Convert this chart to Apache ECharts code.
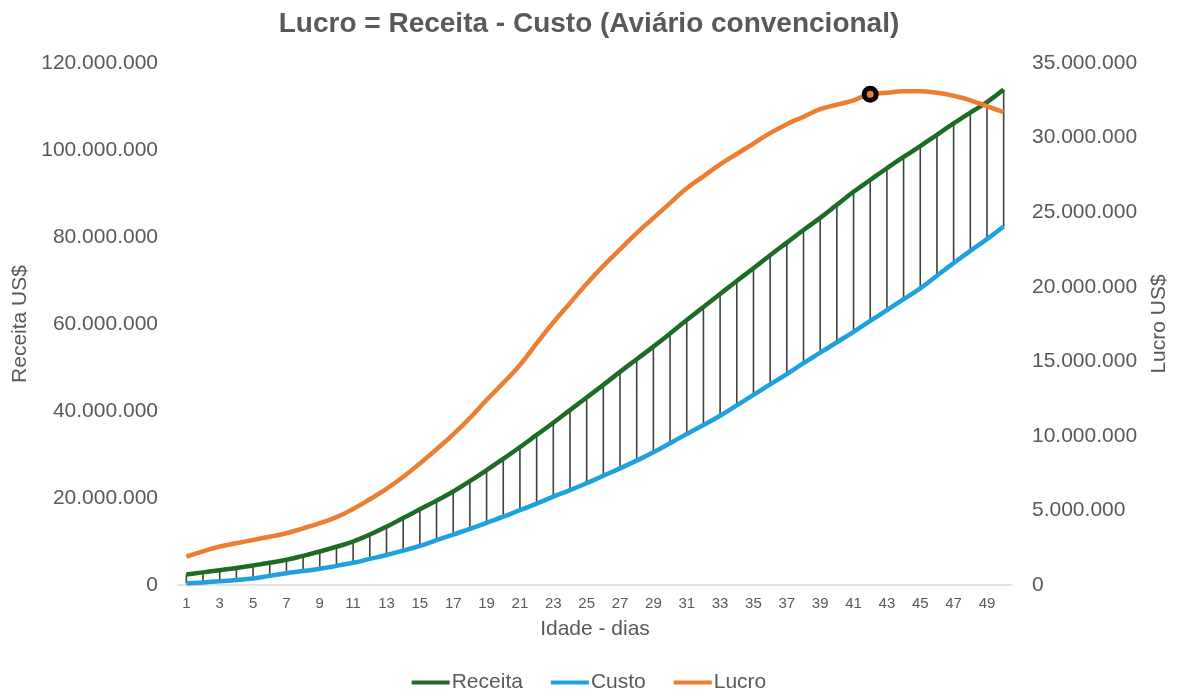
<!DOCTYPE html>
<html>
<head>
<meta charset="utf-8">
<script src="https://cdn.jsdelivr.net/npm/echarts@6/dist/echarts.min.js"></script>
<style>
  html, body { margin: 0; padding: 0; background: #fff; }
  #chart { width: 1178px; height: 693px; }
</style>
</head>
<body>
<div id="chart"></div>
<script>
// dias 1..50
var dias = [];
for (var d = 1; d <= 50; d++) dias.push(String(d));

// valores em milhões de US$
var receita = [
    2.4, 2.9, 3.4, 3.9, 4.5, 5.1, 5.8, 6.7, 7.7, 8.8,
    10.0, 11.6, 13.4, 15.4, 17.4, 19.4, 21.5, 23.9, 26.4, 29.0,
    31.7, 34.5, 37.3, 40.2, 43.1, 46.0, 49.0, 51.9, 54.8, 57.8,
    60.9, 63.9, 66.9, 69.9, 72.8, 75.8, 78.7, 81.6, 84.4, 87.4,
    90.4, 93.1, 95.8, 98.4, 100.9, 103.5, 106.1, 108.6, 111.0, 113.9
];
var custo = [
    0.4, 0.6, 0.85, 1.15, 1.5, 2.1, 2.7, 3.2, 3.75, 4.4,
    5.1, 6.0, 6.9, 7.9, 9.0, 10.3, 11.6, 12.9, 14.3, 15.7,
    17.2, 18.7, 20.3, 21.8, 23.4, 25.1, 26.8, 28.6, 30.5, 32.6,
    34.7, 36.8, 38.9, 41.3, 43.7, 46.1, 48.5, 51.0, 53.4, 55.8,
    58.2, 60.7, 63.2, 65.7, 68.2, 71.1, 74.0, 76.8, 79.5, 82.4
];
var lucro = [
    1.9, 2.25, 2.58, 2.8, 3.02, 3.24, 3.47, 3.8, 4.15, 4.55,
    5.1, 5.75, 6.45, 7.25, 8.15, 9.1, 10.1, 11.2, 12.4, 13.55,
    14.75, 16.2, 17.6, 18.9, 20.2, 21.4, 22.5, 23.6, 24.6, 25.6,
    26.6, 27.4, 28.2, 28.9, 29.6, 30.3, 30.9, 31.4, 31.9, 32.2,
    32.5, 32.9, 33.0, 33.1, 33.1, 33.0, 32.8, 32.5, 32.1, 31.7
];
var diaMax = '42';

var corTexto = '#595959';

function fmt(v) {
    return String(Math.round(v * 1e6)).replace(/\B(?=(\d{3})+(?!\d))/g, '.');
}

var hiLo = dias.map(function (d, i) { return [i, custo[i], receita[i]]; });

var chart = echarts.init(document.getElementById('chart'));

var option = {
    animation: false,
    textStyle: { fontFamily: 'Liberation Sans, Arial, sans-serif' },
    title: {
        text: 'Lucro = Receita - Custo (Aviário convencional)',
        left: 'center',
        top: 5,
        textStyle: { fontSize: 28, fontWeight: 'bold', color: corTexto }
    },
    legend: {
        top: 667,
        icon: 'rect',
        itemWidth: 38,
        itemHeight: 4,
        itemGap: 28,
        textStyle: { fontSize: 21, color: corTexto, padding: [0, 0, 0, -3] },
        data: ['Receita', 'Custo', 'Lucro']
    },
    grid: { left: 178, right: 166, top: 63, bottom: 108 },
    xAxis: {
        type: 'category',
        data: dias,
        boundaryGap: true,
        name: 'Idade - dias',
        nameLocation: 'middle',
        nameGap: 34,
        nameTextStyle: { fontSize: 21, color: corTexto },
        axisLine: { lineStyle: { color: '#d9d9d9', width: 1.5 } },
        axisTick: { show: false },
        axisLabel: { interval: 1, fontSize: 15, color: corTexto, margin: 11 }
    },
    yAxis: [
        {
            type: 'value',
            min: 0, max: 120, interval: 20,
            name: 'Receita US$',
            nameLocation: 'middle',
            nameGap: 146,
            nameTextStyle: { fontSize: 21, color: corTexto },
            splitLine: { show: false },
            axisLine: { show: false },
            axisTick: { show: false },
            axisLabel: { fontSize: 21, color: corTexto, margin: 20, formatter: fmt }
        },
        {
            type: 'value',
            min: 0, max: 35, interval: 5,
            name: 'Lucro US$',
            nameLocation: 'middle',
            nameGap: 137,
            nameTextStyle: { fontSize: 21, color: corTexto },
            splitLine: { show: false },
            axisLine: { show: false },
            axisTick: { show: false },
            axisLabel: { fontSize: 21, color: corTexto, margin: 20, formatter: fmt }
        }
    ],
    series: [
        {
            name: 'hilo',
            type: 'custom',
            yAxisIndex: 0,
            z: 1,
            silent: true,
            encode: { x: 0, y: [1, 2] },
            data: hiLo,
            renderItem: function (params, api) {
                var lo = api.coord([api.value(0), api.value(1)]);
                var hi = api.coord([api.value(0), api.value(2)]);
                return {
                    type: 'line',
                    shape: { x1: lo[0], y1: lo[1], x2: hi[0], y2: hi[1] },
                    style: { stroke: '#404040', lineWidth: 1.6 }
                };
            }
        },
        {
            name: 'Receita',
            type: 'line',
            yAxisIndex: 0,
            z: 3,
            smooth: 0.5,
            showSymbol: false,
            color: '#1e6b26',
            lineStyle: { width: 4.5, color: '#1e6b26' },
            data: receita
        },
        {
            name: 'Custo',
            type: 'line',
            yAxisIndex: 0,
            z: 3,
            smooth: 0.5,
            showSymbol: false,
            color: '#1ea1dd',
            lineStyle: { width: 4.5, color: '#1ea1dd' },
            data: custo
        },
        {
            name: 'Lucro',
            type: 'line',
            yAxisIndex: 1,
            z: 4,
            smooth: 0.5,
            showSymbol: false,
            color: '#ed7d31',
            lineStyle: { width: 4.5, color: '#ed7d31' },
            data: lucro,
            markPoint: {
                symbol: 'circle',
                symbolSize: 12,
                label: { show: false },
                itemStyle: { color: '#ed7d31', borderColor: '#000', borderWidth: 5 },
                data: [{ coord: [diaMax, lucro[dias.indexOf(diaMax)]] }]
            }
        }
    ]
};

chart.setOption(option);
</script>
</body>
</html>
